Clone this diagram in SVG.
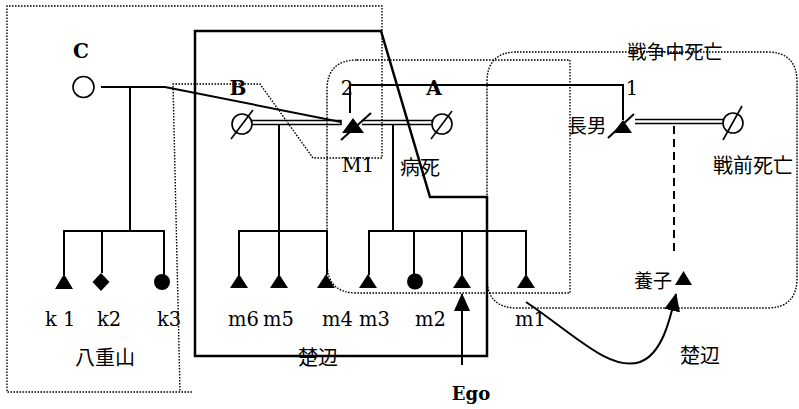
<svg xmlns="http://www.w3.org/2000/svg" width="799" height="409" viewBox="0 0 799 409">
<style>
.ln{fill:none;stroke:#000;stroke-width:2}
.dl{fill:none;stroke:#000;stroke-width:1.6}
.dot{fill:none;stroke:#000;stroke-width:1.4;stroke-dasharray:1.6 1.4}
.box{fill:none;stroke:#000;stroke-width:2.5}
.f{fill:#000;stroke:none}
.o{fill:#fff;stroke:#000;stroke-width:1.6}
.lat{font-family:"DejaVu Serif","Liberation Serif",serif;font-size:19.5px;fill:#000}
.b{font-weight:bold;font-size:20px}
.jp{font-family:"Noto Sans CJK JP","Noto Sans",sans-serif;font-size:20px;fill:#000}
</style>
<defs>
<marker id="ah" viewBox="0 0 18 16" refX="17" refY="8" markerWidth="18" markerHeight="16" markerUnits="userSpaceOnUse" orient="auto">
<path d="M0,0 L18,8 L0,16 z" fill="#000"/>
</marker>
</defs>
<rect width="799" height="409" fill="#fff"/>

<g id="regions">
<path class="dot" d="M192,392 H7 V6 H382 V158 H313 L260,84 H173 L180,392"/>
<path class="dot" d="M357,60 H570 V293 H357 Q327,293 327,263 V90 Q327,60 357,60 Z"/>
<path class="dot" d="M517,52 H767 Q797,52 797,82 V278 Q797,308 767,308 H517 Q487,308 487,278 V82 Q487,52 517,52 Z"/>
<path class="box" d="M195,356 V31 H381 L430,197 H487 V356 Z"/>
<text class="jp" x="105" y="365" text-anchor="middle">八重山</text>
<text class="jp" x="318" y="365" text-anchor="middle">楚辺</text>
<text class="jp" x="700" y="363" text-anchor="middle">楚辺</text>
<text class="jp" x="675" y="59" text-anchor="middle" style="font-size:19px">戦争中死亡</text>
</g>

<g id="connectors">
<path class="ln" d="M101,87 H165 L341,122"/>
<path class="ln" d="M130,87 V231"/>
<path class="ln" d="M64,275 V231 H164 V275 M102,231 V273"/>
<path class="dl" d="M252,120.5 H341 V124.5 H252"/>
<path class="ln" d="M279,124 V231"/>
<path class="ln" d="M239,275 V231 H327 V275 M279,231 V275"/>
<path class="dl" d="M362,120.5 H432 M362,124.5 H432"/>
<path class="ln" d="M393,124 V231"/>
<path class="ln" d="M369,275 V231 H526 V275 M414,231 V274 M462,231 V275"/>
<path class="ln" d="M350,113 V85 H623 V120"/>
<path class="dl" d="M635,119.5 H723 M635,123.5 H723"/>
<path class="ln" d="M674,126 V252" stroke-dasharray="8 5"/>
<path class="ln" d="M462,365 V294" marker-end="url(#ah)"/>
<path class="ln" d="M526,302 C575,335 610,372 640,362 C662,354 670,320 676,294" marker-end="url(#ah)"/>
</g>

<g id="C">
<circle class="o" cx="83.5" cy="87" r="10.5"/>
<text class="lat b" x="81" y="58" text-anchor="middle">C</text>
</g>
<g id="k1"><path class="f" d="M64,274 L73,289 L55,289 Z"/><text class="lat" x="45" y="326">k 1</text></g>
<g id="k2"><path class="f" d="M101,273 L109.5,282 L101,291 L92.5,282 Z"/><text class="lat" x="97" y="326">k2</text></g>
<g id="k3"><circle class="f" cx="162" cy="282" r="8"/><text class="lat" x="157" y="326">k3</text></g>

<g id="B">
<circle class="o" cx="242" cy="124" r="10"/>
<path class="ln" d="M231,139 L253,110" style="stroke-width:1.6"/>
<text class="lat b" x="238" y="95" text-anchor="middle">B</text>
</g>
<g id="M1">
<path class="f" d="M353,118 L364,133 L342,133 Z"/>
<path class="ln" d="M341,140 L371,113"/>
<text class="lat" x="358" y="172" text-anchor="middle">M1</text>
<text class="lat" x="347" y="95" text-anchor="middle">2</text>
</g>
<g id="A">
<circle class="o" cx="442" cy="124" r="10"/>
<path class="ln" d="M431,139 L452,111" style="stroke-width:1.6"/>
<text class="lat b" x="434" y="95" text-anchor="middle">A</text>
<text class="jp" x="400" y="175">病死</text>
</g>

<g id="m6"><path class="f" d="M239,274 L248,288 L230,288 Z"/><text class="lat" x="228" y="326">m6</text></g>
<g id="m5"><path class="f" d="M279,274 L288,288 L270,288 Z"/><text class="lat" x="263" y="326">m5</text></g>
<g id="m4"><path class="f" d="M326,274 L335,288 L317,288 Z"/><text class="lat" x="322" y="326">m4</text></g>
<g id="m3"><path class="f" d="M368,274 L377,288 L359,288 Z"/><text class="lat" x="359" y="326">m3</text></g>
<g id="m2"><circle class="f" cx="415" cy="281.5" r="8"/><text class="lat" x="415" y="326">m2</text></g>
<g id="Ego-node"><path class="f" d="M462,274 L471,288 L453,288 Z"/><text class="lat b" x="471" y="400" text-anchor="middle" style="font-size:18px">Ego</text></g>
<g id="m1"><path class="f" d="M526,274 L535,288 L517,288 Z"/><text class="lat" x="515" y="326">m1</text></g>

<g id="eldest-son">
<path class="f" d="M623,120 L632,133 L613,133 Z"/>
<path class="ln" d="M608,138 L634,114"/>
<text class="jp" x="587" y="133" text-anchor="middle" style="font-size:19.5px">長男</text>
<text class="lat" x="632" y="95" text-anchor="middle">1</text>
</g>
<g id="wife">
<circle class="o" cx="733" cy="123" r="10"/>
<path class="ln" d="M723,140 L742,106" style="stroke-width:1.6"/>
<text class="jp" x="713" y="173">戦前死亡</text>
</g>
<g id="adopted">
<path class="f" d="M683.5,271 L692,285 L675,285 Z"/>
<text class="jp" x="653" y="288" text-anchor="middle" style="font-size:19px">養子</text>
</g>
</svg>
